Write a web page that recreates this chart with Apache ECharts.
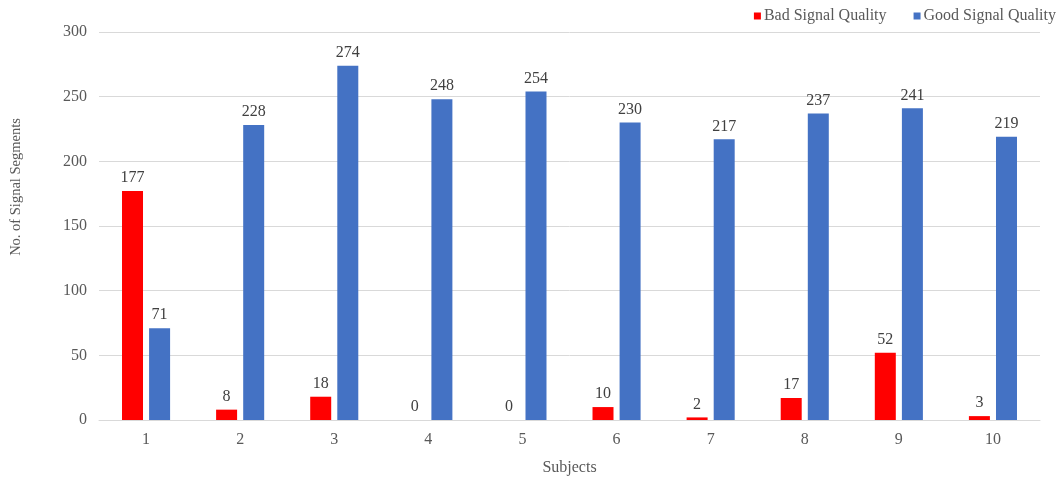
<!DOCTYPE html>
<html>
<head>
<meta charset="utf-8">
<script src="https://cdn.jsdelivr.net/npm/echarts@6/dist/echarts.min.js"></script>
<style>
  html, body { margin: 0; padding: 0; background: #fff; }
  #chart { width: 1059px; height: 479px; }
</style>
</head>
<body>
<div id="chart"></div>
<script>
// Segment counts per subject
const subjects = ['1', '2', '3', '4', '5', '6', '7', '8', '9', '10'];
const badSignal = [177, 8, 18, 0, 0, 10, 2, 17, 52, 3];
const goodSignal = [71, 228, 274, 248, 254, 230, 217, 237, 241, 219];
const yTicks = { min: 0, max: 300, interval: 50 };

const textColor = '#595959';
const fontFamily = '"Liberation Serif", "Times New Roman", serif';

const chart = echarts.init(document.getElementById('chart'));

const labelStyle = {
  show: true,
  position: 'top',
  distance: 5,
  color: '#404040',
  fontFamily: fontFamily,
  fontSize: 16
};

chart.setOption({
  animation: false,
  textStyle: { fontFamily: fontFamily, color: textColor },
  grid: { left: 99, right: 19, top: 32, bottom: 59, outerBoundsMode: 'none', containLabel: false },
  legend: {
    top: 8,
    right: 3,
    padding: 0,
    itemWidth: 7,
    itemHeight: 7,
    itemGap: 27,
    icon: 'rect',
    textStyle: { fontFamily: fontFamily, fontSize: 16, color: textColor, padding: [0, 0, 0, -2] },
    data: ['Bad Signal Quality', 'Good Signal Quality']
  },
  xAxis: {
    type: 'category',
    data: subjects,
    name: 'Subjects',
    nameLocation: 'middle',
    nameGap: 40,
    nameTextStyle: { fontFamily: fontFamily, fontSize: 16, color: textColor },
    axisLine: { lineStyle: { color: '#D9D9D9', width: 1 } },
    axisTick: { show: false },
    axisLabel: { fontFamily: fontFamily, fontSize: 16, color: textColor, margin: 12 }
  },
  yAxis: {
    type: 'value',
    min: yTicks.min,
    max: yTicks.max,
    interval: yTicks.interval,
    axisLine: { show: false },
    axisTick: { show: false },
    axisLabel: { fontFamily: fontFamily, fontSize: 16, color: textColor, margin: 12 },
    splitLine: { lineStyle: { color: '#D9D9D9', width: 1 } }
  },
  graphic: [{
    type: 'text',
    x: 16,
    y: 187,
    rotation: Math.PI / 2,
    style: {
      text: 'No. of Signal Segments',
      fontFamily: fontFamily,
      fontSize: 14.5,
      fill: textColor,
      align: 'center',
      verticalAlign: 'middle'
    }
  }],
  series: [
    {
      name: 'Bad Signal Quality',
      type: 'bar',
      data: badSignal,
      barWidth: 21,
      barGap: '29%',
      itemStyle: { color: '#FF0000' },
      label: labelStyle
    },
    {
      name: 'Good Signal Quality',
      type: 'bar',
      data: goodSignal,
      barWidth: 21,
      barGap: '29%',
      itemStyle: { color: '#4472C4' },
      label: labelStyle
    }
  ]
});
</script>
</body>
</html>
